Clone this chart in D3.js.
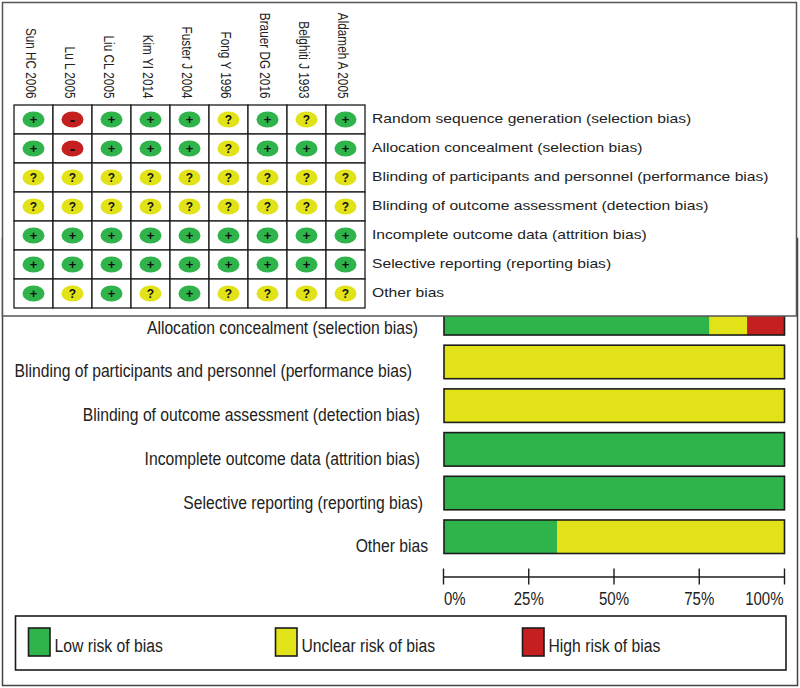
<!DOCTYPE html>
<html><head><meta charset="utf-8">
<script src="https://cdnjs.cloudflare.com/ajax/libs/d3/7.8.5/d3.min.js"></script>
<style>html,body{margin:0;padding:0;background:#fff}svg{display:block}text{font-family:"Liberation Sans",Arial,sans-serif;fill:#222}</style>
</head><body><svg id="c" width="800" height="688"></svg>
<script>
const studies = ["Sun HC 2006","Lu L 2005","Liu CL 2005","Kim YI 2014","Fuster J 2004","Fong Y 1996","Brauer DG 2016","Belghiti J 1993","Aldameh A 2005"];
const domains = ["Random sequence generation (selection bias)","Allocation concealment (selection bias)","Blinding of participants and personnel (performance bias)","Blinding of outcome assessment (detection bias)","Incomplete outcome data (attrition bias)","Selective reporting (reporting bias)","Other bias"];
const judgements = [
  ["+","-","+","+","+","?","+","?","+"],
  ["+","-","+","+","+","?","+","+","+"],
  ["?","?","?","?","?","?","?","?","?"],
  ["?","?","?","?","?","?","?","?","?"],
  ["+","+","+","+","+","+","+","+","+"],
  ["+","+","+","+","+","+","+","+","+"],
  ["+","?","+","?","+","?","?","?","?"]
];
const lowPct = [77.8,78,0,0,100,100,33.3];
const unclearPct = [22.2,11,100,100,0,0,66.7];
const highPct = [0,11,0,0,0,0,0];
const tickValues = [0,25,50,75,100];
const legendLabels = ["Low risk of bias","Unclear risk of bias","High risk of bias"];
const colors = {"+":"#2fb44c","?":"#e2e218","-":"#c4201f"};
const legendKeys = ["+","?","-"];

const svg = d3.select("#c");
const ink = "#1c1c1c";

/* lower panel */
svg.append("rect").attr("x",2.5).attr("y",238.5).attr("width",795).attr("height",447)
  .attr("fill","#fff").attr("stroke","#444").attr("stroke-width",1.5);

const bx = d3.scaleLinear().domain([0,100]).range([444,784.5]);
const by = d3.scaleBand().domain(domains).range([257.8,553.5]).paddingInner(0.233).paddingOuter(0);
const rightEdge = [418,418,412,420,420,423,428];
const lower = svg.append("g");
domains.forEach((d,i)=>{
  const y = by(d), h = by.bandwidth();
  let acc = 0;
  [[lowPct[i],"+"],[unclearPct[i],"?"],[highPct[i],"-"]].forEach(([v,k])=>{
    if(v>0){
      lower.append("rect").attr("x",bx(acc)).attr("y",y).attr("width",bx(acc+v)-bx(acc)).attr("height",h).attr("fill",colors[k]);
      acc += v;
    }
  });
  lower.append("rect").attr("x",bx(0)).attr("y",y).attr("width",bx(100)-bx(0)).attr("height",h)
    .attr("fill","none").attr("stroke",ink).attr("stroke-width",1.6);
  if(i>0) lower.append("text").attr("text-anchor","end").attr("font-size",18.5)
    .attr("transform",`translate(${rightEdge[i]},${y+h/2+15.5}) scale(0.848,1)`).text(d);
});

/* axis */
const axisG = svg.append("g").attr("transform","translate(0,576.5)")
  .call(d3.axisBottom(bx.copy().range([443,784])).tickValues(tickValues).tickFormat(d=>d+"%").tickSize(0).tickPadding(0));
axisG.select(".domain").attr("stroke",ink).attr("stroke-width",1.6);
axisG.selectAll(".tick line").attr("y1",-8).attr("y2",8).attr("stroke",ink).attr("stroke-width",1.4);
axisG.selectAll(".tick text").attr("y",0).attr("dy",0).attr("fill","#222").attr("font-size",18.5)
  .attr("font-family","Liberation Sans")
  .attr("text-anchor",d=>d===0?"start":d===100?"end":"middle")
  .attr("transform",d=>`translate(${d===0?0.5:d===100?-1:0},28) scale(0.81,1)`);

/* legend */
svg.append("rect").attr("x",15.5).attr("y",616).attr("width",770.5).attr("height",54)
  .attr("fill","#fff").attr("stroke",ink).attr("stroke-width",1.6);
const lx = d3.scaleOrdinal().domain(legendLabels).range([28.5,275.5,522.5]);
legendLabels.forEach((t,i)=>{
  svg.append("rect").attr("x",lx(t)).attr("y",628).attr("width",21.5).attr("height",28)
    .attr("fill",colors[legendKeys[i]]).attr("stroke",ink).attr("stroke-width",1.6);
  svg.append("text").attr("font-size",18.5)
    .attr("transform",`translate(${lx(t)+26},652) scale(0.85,1)`).text(t);
});

/* top panel */
svg.append("rect").attr("x",2.5).attr("y",2.5).attr("width",794).attr("height",313.5)
  .attr("fill","#fff").attr("stroke","#555").attr("stroke-width",1.5);
const gx = d3.scaleBand().domain(studies).range([14,365]);
const gy = d3.scaleBand().domain(domains).range([105,308]);
const matrix = svg.append("g");
studies.forEach(s=>{
  matrix.append("text").attr("text-anchor","end").attr("font-size",15)
    .attr("transform",`translate(${gx(s)+gx.bandwidth()/2-8},98.5) rotate(90) scale(0.785,1)`).text(s);
});
domains.forEach((d,r)=>{
  matrix.append("text").attr("font-size",13)
    .attr("transform",`translate(372,${gy(d)+gy.bandwidth()/2+3.5}) scale(1.205,1)`).text(d);
  studies.forEach((s,c)=>{
    const k = judgements[r][c];
    const cx = gx(s)+gx.bandwidth()/2, cy = gy(d)+gy.bandwidth()/2;
    matrix.append("rect").attr("x",gx(s)).attr("y",gy(d)).attr("width",gx.bandwidth()).attr("height",gy.bandwidth())
      .attr("fill","#fff").attr("stroke",ink).attr("stroke-width",1.3);
    matrix.append("ellipse").attr("cx",cx).attr("cy",cy).attr("rx",11).attr("ry",8).attr("fill",colors[k]);
    matrix.append("text").attr("x",cx).attr("y",cy+(k==="-"?5:4)).attr("text-anchor","middle")
      .attr("font-size",k==="?"?12:k==="-"?16:13).attr("font-weight","bold").style("fill","#111")
      .text(k);
  });
});
</script></body></html>
